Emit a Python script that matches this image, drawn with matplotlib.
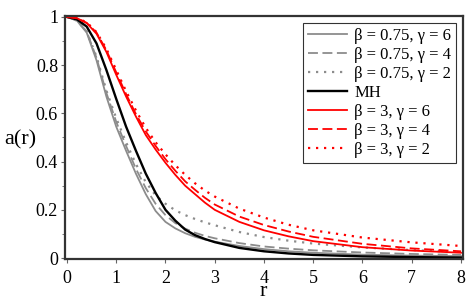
import numpy as np
import matplotlib
matplotlib.use("Agg")
import matplotlib.pyplot as plt
from matplotlib.ticker import MultipleLocator

plt.rcParams['font.family'] = ['Liberation Serif', 'DejaVu Serif']

# values
r = [0, 0.2, 0.4, 0.6, 0.8, 1.0, 1.2, 1.4, 1.6, 1.8, 2.0, 2.2, 2.4, 2.6, 2.8, 3.0,
     3.5, 4, 4.5, 5, 6, 7, 8]

a_mh = [1, 0.99, 0.96, 0.89, 0.78, 0.66, 0.545, 0.445, 0.35, 0.27, 0.2, 0.155, 0.118,
        0.095, 0.079, 0.066, 0.042, 0.028, 0.019, 0.013, 0.007, 0.004, 0.002]
a_b075_g6 = [1, 0.985, 0.935, 0.82, 0.67, 0.545, 0.445, 0.35, 0.265, 0.195, 0.15, 0.123, 0.103,
             0.088, 0.077, 0.068, 0.05, 0.037, 0.028, 0.022, 0.014, 0.01, 0.008]
a_b075_g4 = [1, 0.985, 0.94, 0.83, 0.685, 0.565, 0.465, 0.37, 0.29, 0.225, 0.178, 0.145, 0.122,
             0.105, 0.092, 0.082, 0.062, 0.048, 0.039, 0.032, 0.023, 0.017, 0.013]
a_b075_g2 = [1, 0.985, 0.94, 0.835, 0.695, 0.58, 0.48, 0.39, 0.315, 0.26, 0.225, 0.198, 0.178,
             0.162, 0.148, 0.136, 0.108, 0.087, 0.072, 0.06, 0.044, 0.033, 0.025]
a_b3_g6 = [1, 0.995, 0.975, 0.93, 0.855, 0.76, 0.67, 0.587, 0.51, 0.45, 0.395, 0.345, 0.30,
           0.265, 0.23, 0.2, 0.15, 0.115, 0.09, 0.07, 0.045, 0.031, 0.022]
a_b3_g4 = [1, 0.995, 0.975, 0.935, 0.862, 0.77, 0.68, 0.597, 0.525, 0.465, 0.41, 0.362, 0.318,
           0.283, 0.25, 0.222, 0.172, 0.137, 0.11, 0.088, 0.059, 0.04, 0.028]
a_b3_g2 = [1, 0.995, 0.978, 0.937, 0.868, 0.78, 0.692, 0.612, 0.54, 0.48, 0.43, 0.385, 0.345,
           0.31, 0.28, 0.255, 0.205, 0.168, 0.138, 0.115, 0.085, 0.065, 0.05]

series = [
    (a_b075_g6, 'β = 0.75, γ = 6', '#8c8c8c', '-', 1.3),
    (a_b075_g4, 'β = 0.75, γ = 4', '#8c8c8c', (0, (5.5, 2.5)), 1.3),
    (a_b075_g2, 'β = 0.75, γ = 2', '#8c8c8c', (0, (1, 2.6)), 1.6),
    (a_mh, 'MH', 'black', '-', 1.7),
    (a_b3_g6, 'β = 3, γ = 6', 'red', '-', 1.3),
    (a_b3_g4, 'β = 3, γ = 4', 'red', (0, (5.5, 2.5)), 1.3),
    (a_b3_g2, 'β = 3, γ = 2', 'red', (0, (1, 2.6)), 1.6),
]

fig = plt.figure(figsize=(4.69, 3.01), dpi=100)
ax = fig.add_axes([0.1386, 0.1395, 0.8485, 0.8075])

for vals, lab, col, ls, lw in series:
    ax.plot(r, vals, color=col, linestyle=ls, linewidth=lw, label=lab)

ax.set_xlim(-0.04, 8.04)
ax.set_ylim(-0.004, 1.004)
ax.set_xticks(range(0, 9))
ax.set_yticks([0, 0.2, 0.4, 0.6, 0.8, 1])
ax.set_yticklabels(['0', '0.2', '0.4', '0.6', '0.8', '1'])
ax.yaxis.set_minor_locator(MultipleLocator(0.1))
ax.tick_params(axis='both', which='major', labelsize=13, length=3, width=0.8,
               color='#666666')
ax.tick_params(axis='x', which='major', pad=5)
ax.tick_params(axis='y', which='major', pad=2)
ax.tick_params(axis='y', which='minor', length=2, width=0.6, color='#666666')
for sp in ax.spines.values():
    sp.set_linewidth(1.6)
    sp.set_color('#333333')

fig.text(20 / 469, 1 - 140 / 301, 'a(r)', fontsize=16, ha='center', va='center')
fig.text(263 / 469, 1 - 292 / 301, 'r', fontsize=16, ha='center', va='center')

leg = ax.legend(loc='upper right', fontsize=12, frameon=True, fancybox=False,
                edgecolor='black', handlelength=2.3, handletextpad=0.45,
                borderpad=0.3, labelspacing=0.18, borderaxespad=0.4)
leg.get_frame().set_linewidth(0.8)

fig.savefig('out.png', dpi=100)
